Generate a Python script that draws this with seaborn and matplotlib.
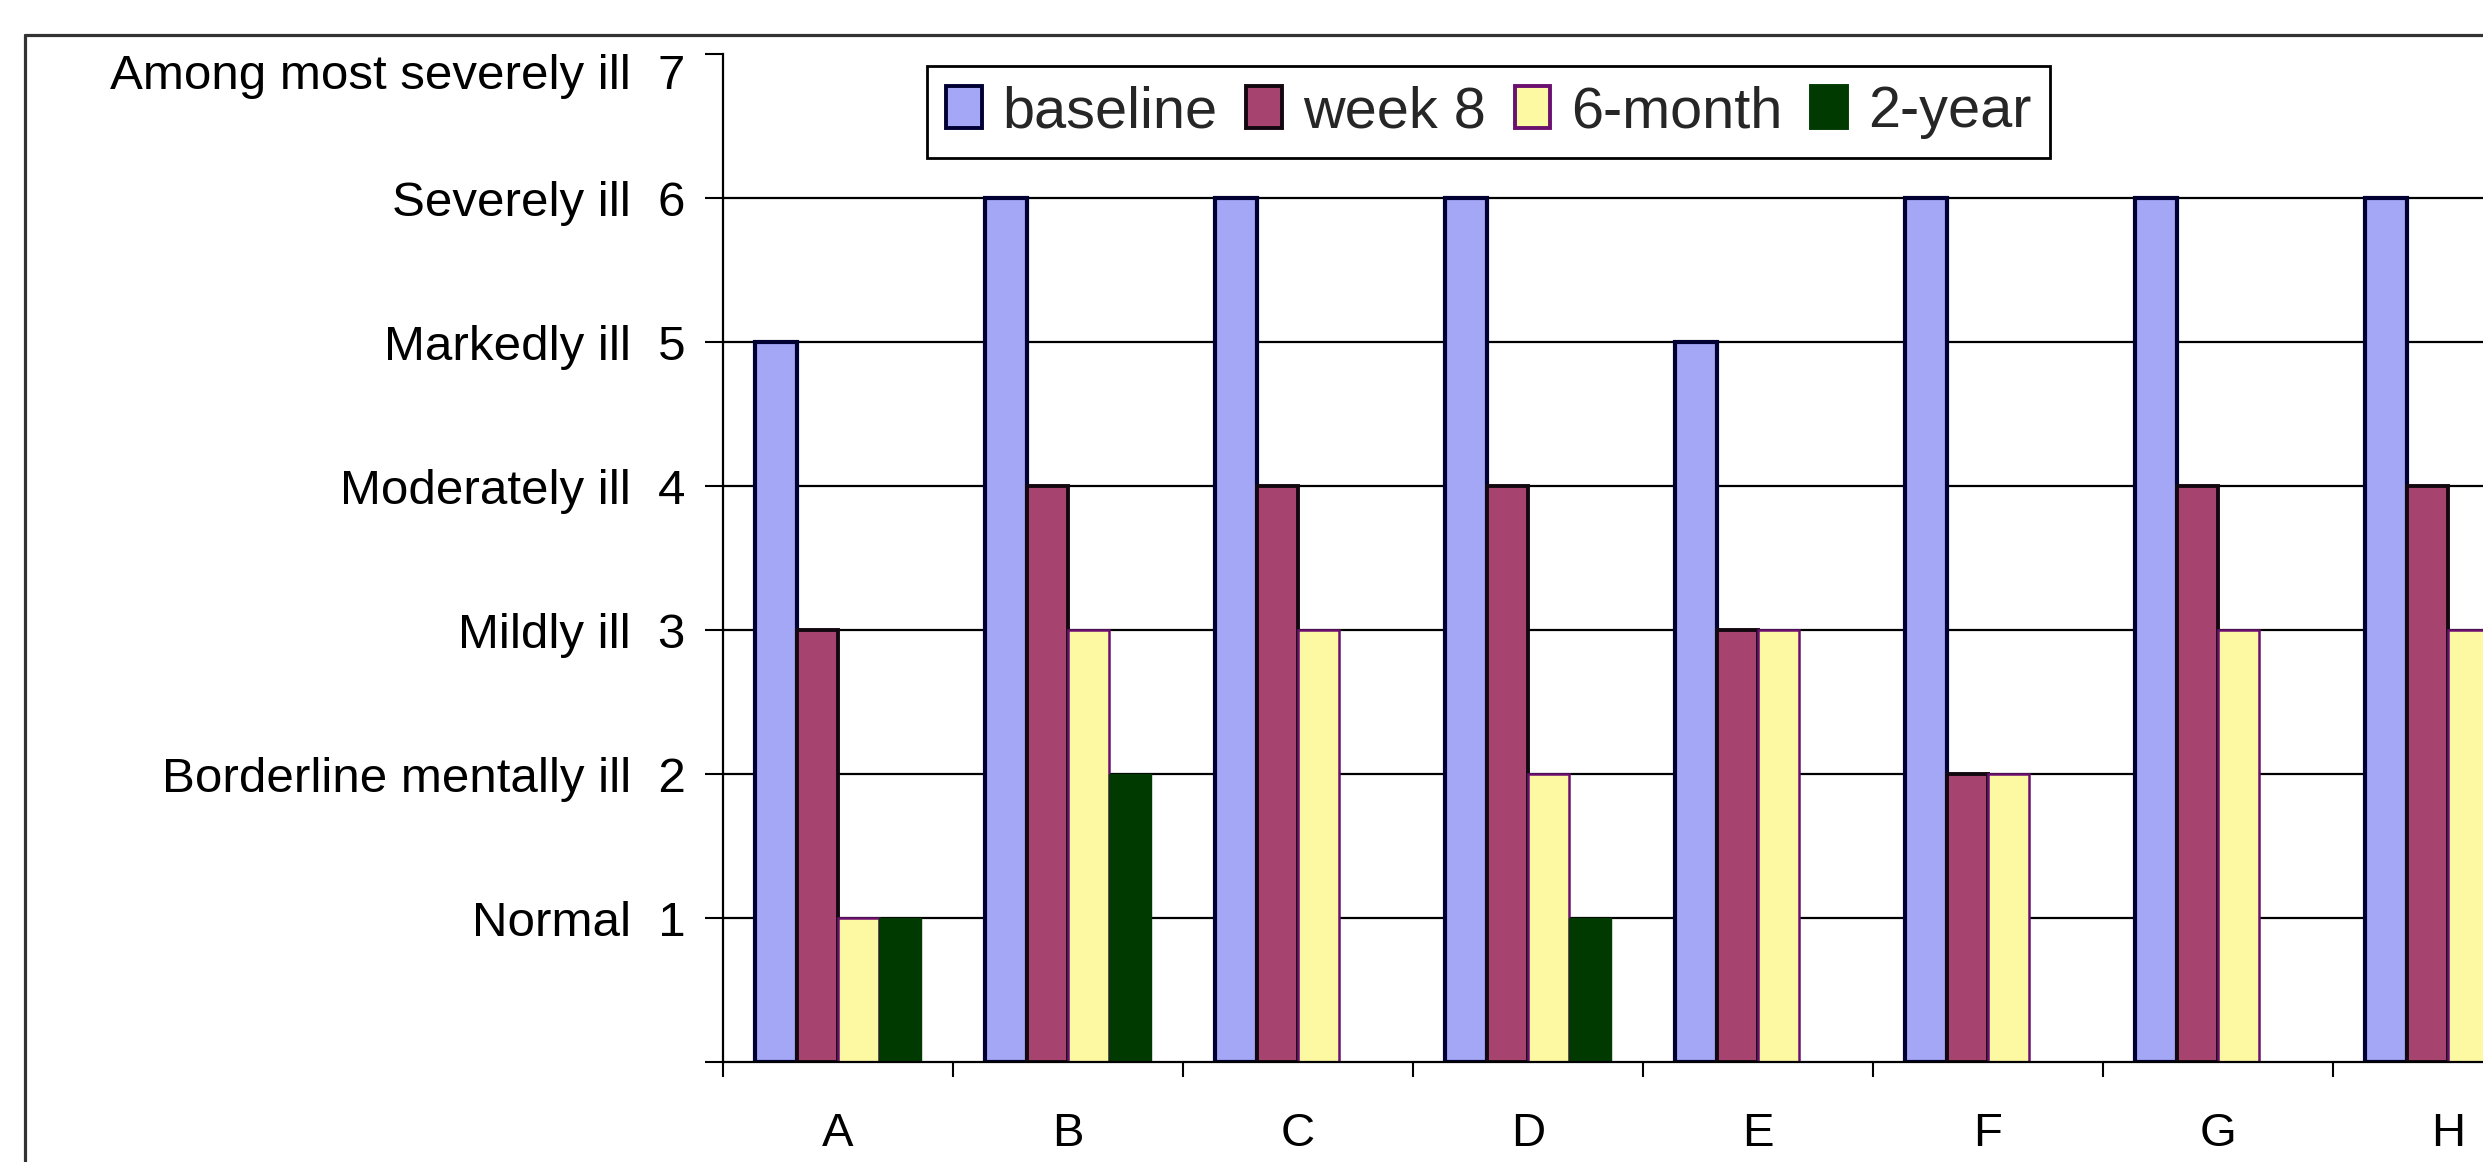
import numpy as np
import pandas as pd
import matplotlib
matplotlib.use("Agg")
import matplotlib.pyplot as plt
import seaborn as sns
from matplotlib.lines import Line2D
from matplotlib.patches import Patch

# ---------------- data ----------------
patients = ["A", "B", "C", "D", "E", "F", "G", "H"]
series = ["baseline", "week 8", "6-month", "2-year"]
baseline = [5, 6, 6, 6, 5, 6, 6, 6]
week8 = [3, 4, 4, 4, 3, 2, 4, 4]
month6 = [1, 3, 3, 2, 3, 2, 3, 3]
year2 = [1, 2, np.nan, 1, np.nan, np.nan, np.nan, np.nan]
severity_labels = ["", "Normal  1", "Borderline mentally ill  2", "Mildly ill  3",
                   "Moderately ill  4", "Markedly ill  5", "Severely ill  6",
                   "Among most severely ill  7"]

colors = ["#A4A6F6", "#A6436F", "#FDF8A2", "#003A00"]
edges = ["#000033", "#140810", "#6B1070", "#003A00"]
edge_w = [3.0, 2.8, 1.8, 1.0]

df = pd.DataFrame({
    "patient": patients * 4,
    "timepoint": np.repeat(series, len(patients)),
    "score": baseline + week8 + month6 + year2,
})

sns.set_theme(style="white")
plt.rcParams["font.family"] = ["Liberation Sans", "DejaVu Sans"]

W, H = 2483, 1162
fig = plt.figure(figsize=(W / 100, H / 100), dpi=100)
ax = fig.add_axes([723 / W, (H - 1062) / H, 1840 / W, 1008 / H])

sns.barplot(data=df, x="patient", y="score", hue="timepoint", order=patients,
            hue_order=series, palette=colors, width=0.72, saturation=1,
            errorbar=None, legend=False, ax=ax)

for cont, ec, lw in zip(ax.containers, edges, edge_w):
    for bar in cont:
        bar.set_edgecolor(ec)
        bar.set_linewidth(lw)

ax.set_xlim(-0.5, 7.5)
ax.set_ylim(0, 7)
ax.set_xlabel("")
ax.set_ylabel("")

ax.set_yticks(range(8))
ax.set_yticklabels(severity_labels)
ax.set_axisbelow(True)
ax.yaxis.grid(True, color="black", linewidth=1.6)
gl = ax.get_ygridlines()
gl[7].set_visible(False)
gl[0].set_visible(False)
ax.xaxis.grid(False)

ax.set_xticks(range(8))
ax.set_xticklabels(patients)
ax.set_xticks(np.arange(-0.5, 8.0, 1.0), minor=True)

ax.tick_params(axis="y", which="major", left=True, direction="out", length=13,
               width=1.5, pad=14, labelsize=35.5, colors="black")
ax.tick_params(axis="x", which="major", bottom=True, length=0, pad=36,
               labelsize=34, colors="black")
ax.tick_params(axis="x", which="minor", bottom=True, direction="out",
               length=11, width=1.5, color="black")

# top label sits just below the top of the axis
ax.get_yticklabels()[7].set_verticalalignment("top")

for s in ["top", "right"]:
    ax.spines[s].set_visible(False)
for s in ["left", "bottom"]:
    ax.spines[s].set_color("black")
    ax.spines[s].set_linewidth(1.6)

# outer chart-area frame (cropped at right/bottom)
x0 = 25 / W
ytop = 1 - 35 / H
fig.add_artist(Line2D([x0, x0], [0, ytop], transform=fig.transFigure,
                      color="#333333", lw=2.3))
fig.add_artist(Line2D([x0, 1], [ytop, ytop], transform=fig.transFigure,
                      color="#333333", lw=2.3))

handles = [Patch(facecolor=c, edgecolor=e, linewidth=2.8) for c, e in zip(colors, edges)]
leg = fig.legend(handles, series, loc="upper left",
                 bbox_to_anchor=(927 / W, 1 - 66 / H), bbox_transform=fig.transFigure,
                 ncol=4, fontsize=41.5, frameon=True, fancybox=False,
                 edgecolor="black", handlelength=0.62, handleheight=0.76,
                 handletextpad=0.36, columnspacing=0.5, borderpad=0.33,
                 borderaxespad=0)
leg.get_frame().set_linewidth(2)
leg.get_frame().set_facecolor("white")
leg.get_frame().set_alpha(1)

fig.savefig("out.png", dpi=100)
